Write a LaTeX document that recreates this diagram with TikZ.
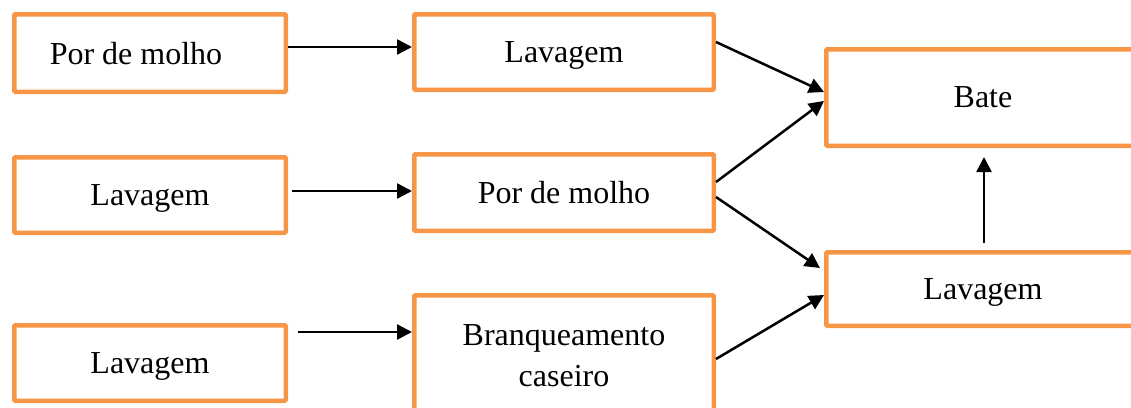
\documentclass[tikz,border=0pt]{standalone}
\usepackage{fontspec}
\setmainfont{Liberation Serif}
\usetikzlibrary{arrows.meta,calc}
\definecolor{boxorange}{HTML}{F79646}
\begin{document}
\begin{tikzpicture}[x=1pt,y=-1pt,
  box/.style={draw=boxorange,line width=4.5pt,rounded corners=1pt,fill=white,
    inner sep=0pt,font=\fontsize{32}{41}\selectfont,align=center,text depth=0pt},
  conn/.style={line width=2.5pt,-{Triangle[length=15pt,width=15pt]}}]
\useasboundingbox (0,0) rectangle (1131,407);
% left column
\node[box,minimum width=271.5pt,minimum height=77.5pt] (a1) at (150,53) {};
\node[font=\fontsize{32}{41}\selectfont,text depth=0pt] (a1t) at (136,53) {Por de molho};
\node[box,minimum width=271.5pt,minimum height=75.5pt] (a2) at (150,195) {Lavagem};
\node[box,minimum width=271.5pt,minimum height=75.5pt] (a3) at (150,363) {Lavagem};
% middle column
\node[box,minimum width=299.5pt,minimum height=75.5pt] (b1) at (564,52) {Lavagem};
\node[box,minimum width=299.5pt,minimum height=76.5pt] (b2) at (564,192.5) {Por de molho};
\node[box,minimum width=299.5pt,minimum height=121.5pt] (b3) at (564,356) {Branqueamento\\caseiro};
% right column
\node[box,minimum width=313.5pt,minimum height=96.5pt] (c1) at (983,97.5) {Bate};
\node[box,minimum width=313.5pt,minimum height=73.5pt] (c2) at (983,289) {Lavagem};
% connectors
\draw[conn] ($(a1.east)+(0,-6)$) -- ($(b1.west)+(0,-5)$);
\draw[conn] ($(a2.east)+(4,-4)$) -- ($(b2.west)+(0,-1.5)$);
\draw[conn] ($(a3.east)+(10,-31)$) -- ($(b3.west)+(0,-24)$);
\draw[conn] ($(b1.east)+(0,-10)$) -- ($(c1.west)+(0,-5.5)$);
\draw[conn] ($(b2.east)+(0,-10.5)$) -- ($(c1.west)+(0,3.5)$);
\draw[conn] ($(b2.east)+(0,4.5)$) -- ($(c2.west)+(-4,-21)$);
\draw[conn] ($(b3.east)+(0,3)$) -- ($(c2.west)+(0,6)$);
\draw[conn] ($(c2.north)+(1,-7)$) -- ($(c1.south)+(1,9)$);
\end{tikzpicture}
\end{document}
